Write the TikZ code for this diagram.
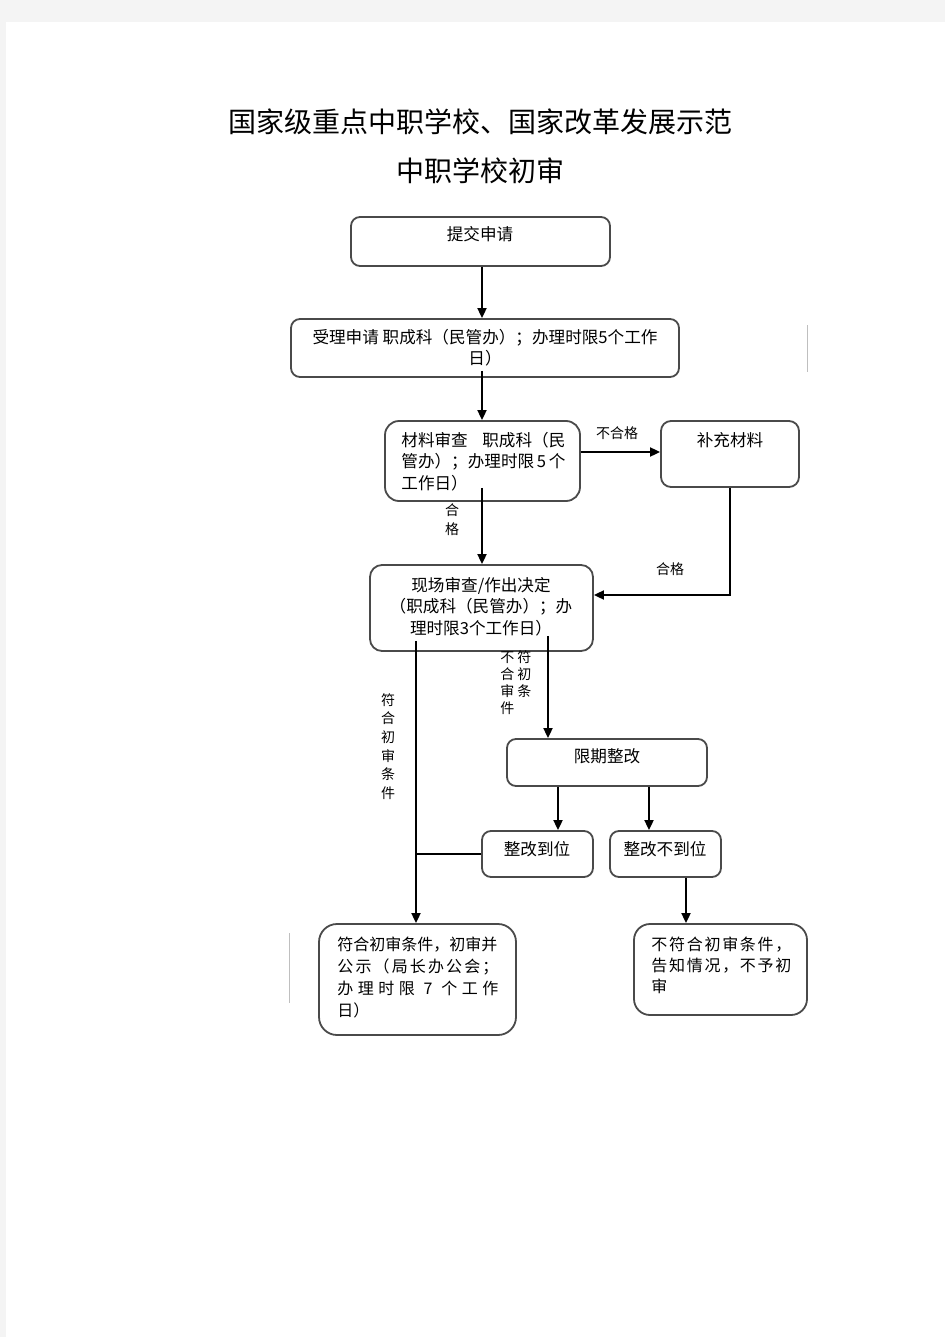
\documentclass[tikz,border=0pt]{standalone}
\usepackage{fontspec}
\setmainfont{Noto Sans CJK SC}
\usetikzlibrary{arrows.meta}
\definecolor{pagebg}{HTML}{F4F4F4}
\definecolor{boxline}{HTML}{4A4A4A}
\begin{document}
\begin{tikzpicture}[x=0.5pt,y=-0.5pt,
  box/.style={draw=boxline, line width=0.9pt, rounded corners=4.5pt, inner sep=0pt, fill=white},
  txt/.style={font=\fontsize{8.3}{10.75}\selectfont, inner sep=0pt, align=center},
  lbl/.style={font=\fontsize{7}{9}\selectfont, inner sep=0pt},
  ttl/.style={font=\fontsize{14}{14}\selectfont, inner sep=0pt},
  arr/.style={line width=0.9pt, -{Triangle[length=5pt,width=4.5pt]}},
  ln/.style={line width=0.9pt},
  faint/.style={draw=black!25, line width=0.5pt}]
% page
\fill[pagebg] (0,0) rectangle (945,1337);
\fill[white] (6,22) rectangle (945,1337);
\useasboundingbox (0,0) rectangle (945,1337);
% title
\node[ttl] (title1) at (480,122) {国家级重点中职学校、国家改革发展示范};
\node[ttl] (title2) at (480,171) {中职学校初审};
% boxes
\node[box, minimum width=129.5pt, minimum height=24.5pt] (b1) at (480.5,241.5) {};
\node[box, minimum width=194pt, minimum height=29pt] (b2) at (485,348) {};
\node[box, rounded corners=7pt, minimum width=97.5pt, minimum height=40pt] (b3) at (482.5,461) {};
\node[box, rounded corners=5pt, minimum width=69pt, minimum height=33pt] (b4) at (730,454) {};
\node[box, rounded corners=6pt, minimum width=111.5pt, minimum height=43pt] (b5) at (481.5,608) {};
\node[box, minimum width=100pt, minimum height=23.5pt] (b6) at (607,762.5) {};
\node[box, minimum width=55.5pt, minimum height=23pt] (b7) at (537.5,854) {};
\node[box, minimum width=55.5pt, minimum height=23pt] (b8) at (665.5,854) {};
\node[box, rounded corners=9pt, minimum width=98.5pt, minimum height=55.5pt] (b9) at (417.5,979.5) {};
\node[box, rounded corners=8pt, minimum width=86.5pt, minimum height=45.5pt] (b10) at (720.5,969.5) {};
% box texts
\node[txt] (t1) at (480,234) {提交申请};
\node[txt] (t2) at (485,347.5) {受理申请 职成科（民管办）；办理时限5个工作\\日）};
\node[txt, align=left, anchor=west] (t3) at (401,461.5)
  {\makebox[82pt][s]{材料审查\hfil 职成科（民}\\
   \makebox[82pt][s]{管办）；办理时限\hfil 5\hfil 个}\\
   工作日）};
\node[txt] (t4) at (730,440) {补充材料};
\node[txt] (t5) at (481,606.5) {现场审查/作出决定\\（职成科（民管办）；办\\理时限3个工作日）};
\node[txt] (t6) at (607,756) {限期整改};
\node[txt] (t7) at (537,849) {整改到位};
\node[txt] (t8) at (665,849) {整改不到位};
\node[txt, font=\fontsize{8}{10.85}\selectfont, align=left, anchor=west] (t9) at (337,977.5)
  {符合初审条件，初审并\\
   \makebox[80.5pt][s]{公\hfil 示\hfil （\hfil 局\hfil 长\hfil 办\hfil 公\hfil 会\hfil ；}\\
   \makebox[80.5pt][s]{办\hfil 理\hfil 时\hfil 限\hfil\hfil 7\hfil\hfil 个\hfil 工\hfil 作}\\
   日）};
\node[txt, font=\fontsize{8}{10.5}\selectfont, align=left, anchor=west] (t10) at (651,965)
  {\makebox[70pt][s]{不\hfil 符\hfil 合\hfil 初\hfil 审\hfil 条\hfil 件\hfil ，}\\
   \makebox[70pt][s]{告\hfil 知\hfil 情\hfil 况\hfil ，\hfil 不\hfil 予\hfil 初}\\
   审};
% labels
\node[lbl] (l1) at (617,433) {不合格};
\node[lbl, align=center, font=\fontsize{7}{9.5}\selectfont] (l2) at (452,519.5) {合\\格};
\node[lbl] (l3) at (670,569) {合格};
\node[lbl, align=left, anchor=west, font=\fontsize{7}{8.5}\selectfont] (l4) at (500,682.5)
  {不\hspace{1.5pt}符\\合\hspace{1.5pt}初\\审\hspace{1.5pt}条\\件};
\node[lbl, align=center, font=\fontsize{7}{9.3}\selectfont] (l5) at (388,746.5) {符\\合\\初\\审\\条\\件};
% column / row helpers
\coordinate (x482) at (482,0);
\coordinate (x548) at (548,0);
\coordinate (x416) at (416,0);
\coordinate (x558) at (558,0);
\coordinate (x649) at (649,0);
\coordinate (x686) at (686,0);
\coordinate (y452) at (0,452);
\coordinate (y595) at (0,595);
% connectors
\draw[arr] (b1.south -| x482) -- (b2.north -| x482);
\draw[arr, shorten <=-3.5pt] (b2.south -| x482) -- (b3.north -| x482);
\draw[arr, shorten <=-7pt] (b3.south -| x482) -- (b5.north -| x482);
\draw[arr] (b3.east |- y452) -- (b4.west |- y452);
\draw[arr] (b4.south) |- (b5.east |- y595);
\draw[arr, shorten <=-8pt] (b5.south -| x548) -- (b6.north -| x548);
\draw[arr, shorten <=-5.5pt] (b5.south -| x416) -- (b9.north -| x416);
\draw[ln] (b7.west) -- (b7.west -| x416);
\draw[arr] (b6.south -| x558) -- (b7.north -| x558);
\draw[arr] (b6.south -| x649) -- (b8.north -| x649);
\draw[arr] (b8.south -| x686) -- (b10.north -| x686);
% faint marks
\coordinate (f1a) at (807,325); \coordinate (f1b) at (807,372);
\coordinate (f2a) at (289,933); \coordinate (f2b) at (289,1003);
\draw[faint] (f1a) -- (f1b);
\draw[faint] (f2a) -- (f2b);
\end{tikzpicture}
\end{document}
